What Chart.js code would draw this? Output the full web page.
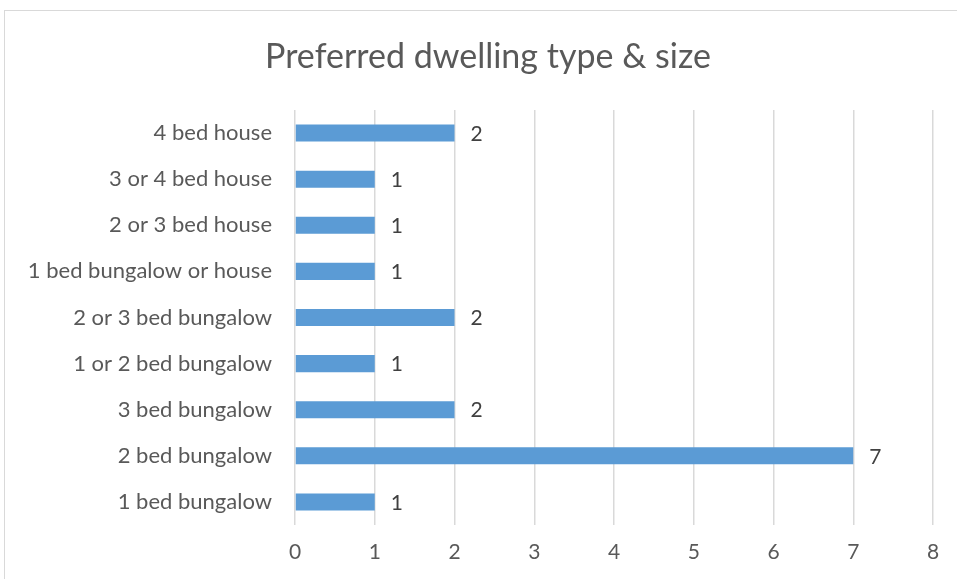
<!DOCTYPE html>
<html>
<head>
<meta charset="utf-8">
<script src="https://cdn.jsdelivr.net/npm/chart.js@4"></script>
<style>
  html, body { margin: 0; padding: 0; background: #fff; }
  #wrap { position: relative; width: 957px; height: 579px; overflow: hidden; }
  #frame { position: absolute; left: 4px; top: 10px; width: 1000px; height: 700px; border: 1px solid #d9d9d9; box-sizing: border-box; }
  canvas { position: absolute; left: 0; top: 0; }
</style>
</head>
<body>
<div id="wrap">
  <div id="frame"></div>
  <canvas id="myChart" width="957" height="579"></canvas>
</div>
<script>
const CATEGORIES = ['4 bed house', '3 or 4 bed house', '2 or 3 bed house', '1 bed bungalow or house', '2 or 3 bed bungalow', '1 or 2 bed bungalow', '3 bed bungalow', '2 bed bungalow', '1 bed bungalow'];
const COUNTS = [2, 1, 1, 1, 2, 1, 2, 7, 1];
const X_MAX = 8;

const FONT = 'Lato, "Open Sans", sans-serif';
const TEXT_GREY = '#595959';

// value label just right of each bar
const barLabels = {
    id: 'barLabels',
    afterDatasetsDraw(chart) {
        const c = chart.ctx;
        const meta = chart.getDatasetMeta(0);
        c.save();
        c.font = '21px ' + FONT;
        c.fillStyle = '#404040';
        c.textAlign = 'left';
        c.textBaseline = 'middle';
        meta.data.forEach(function(bar, i) {
            c.fillText(String(COUNTS[i]), bar.x + 16, bar.y + 1);
        });
        c.restore();
    }
};

var ctx = document.getElementById('myChart').getContext('2d');
var myChart = new Chart(ctx, {
    type: 'bar',
    data: {
        labels: CATEGORIES,
        datasets: [{
            data: COUNTS,
            backgroundColor: '#5b9bd5',
            borderWidth: 0,
            barPercentage: 0.37,
            categoryPercentage: 1
        }]
    },
    options: {
        indexAxis: 'y',
        responsive: false,
        animation: false,
        layout: { padding: { left: 23, right: 4, top: 0, bottom: 0 } },
        plugins: {
            legend: { display: false },
            tooltip: { enabled: false },
            title: {
                display: true,
                text: 'Preferred dwelling type & size',
                color: TEXT_GREY,
                font: { family: FONT, size: 34, weight: 'normal', lineHeight: 1.2 },
                padding: { top: 36.6, bottom: 32.6 }
            }
        },
        scales: {
            x: {
                min: 0,
                max: X_MAX,
                ticks: { stepSize: 1, color: TEXT_GREY, padding: 15, font: { family: FONT, size: 21 } },
                grid: { color: '#d9d9d9', lineWidth: 1.5, drawTicks: false },
                border: { display: false },
                afterFit(scale) {
                    scale.height = 54;
                    scale.paddingRight = 24;
                }
            },
            y: {
                ticks: { color: TEXT_GREY, padding: 23, font: { family: FONT, size: 22 } },
                grid: { display: false, drawTicks: false },
                border: { display: false },
                afterFit(scale) { scale.width = 272; }
            }
        }
    },
    plugins: [barLabels]
});
</script>
</body>
</html>
